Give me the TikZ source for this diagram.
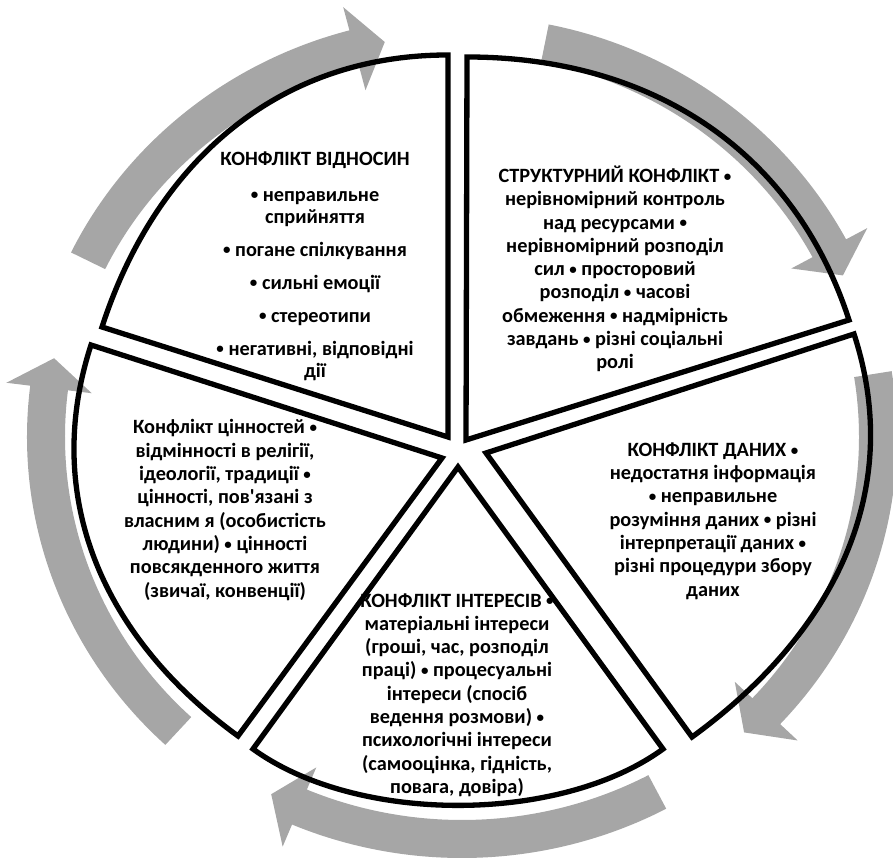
\documentclass[tikz,border=0pt]{standalone}
\usepackage{fontspec}
\setmainfont{Carlito}[Ligatures=TeXOff]
\definecolor{arrowgray}{RGB}{166,166,166}
\newcommand{\dotmark}{{\fontsize{15}{15}\selectfont\raisebox{1.3pt}{•}}}

\begin{document}
\begin{tikzpicture}[x=1pt,y=1pt,
    slice/.style={draw=black,line width=5.3pt,line join=miter},
    txt/.style={align=center,inner sep=0pt,font=\bfseries\fontsize{20.3}{23.3}\selectfont}]
  \useasboundingbox (0,0) rectangle (893,867);
  % slices of the pie, pulled apart a little
  \def\sliceA{(448,430) -- (448,812) to[out=180,in=72] (102,540) -- cycle}
  \def\sliceB{(466,427) -- (849,547) to[out=108,in=0] (467,810) -- cycle}
  \def\sliceC{(486,414) -- (692,130) to[out=36,in=-72] (854,533) -- cycle}
  \def\sliceD{(458,400) -- (253,118) to[out=-36,in=-144,looseness=0.8] (663,118) -- cycle}
  \def\sliceE{(442,409) -- (91,522) to[out=252,in=144] (238,131) -- cycle}
  \fill[white] \sliceA;
  \fill[white] \sliceB;
  \fill[white] \sliceC;
  \fill[white] \sliceD;
  \fill[white] \sliceE;
  % grey arrows going round clockwise (tail angle / head angle)
  \foreach \a/\b in {154/105, 78.5/28, 9/-43, -62/-113, -133/-187}
    \fill[arrowgray,shift={(462,430)}] (\a:435 and 421)
      arc[start angle=\a,end angle=\b,x radius=435,y radius=421]
      -- (\b:459 and 445) -- ({\b-4.3}:416 and 402) -- (\b:373 and 359)
      -- (\b:397 and 383)
      arc[start angle=\b,end angle=\a,x radius=397,y radius=383] -- cycle;
  \draw[slice] \sliceA;
  \draw[slice] \sliceB;
  \draw[slice] \sliceC;
  \draw[slice] \sliceD;
  \draw[slice] \sliceE;
  % texts
  \node[txt,font=\bfseries\fontsize{20.3}{22}\selectfont] (rel) at (315,601)
    {КОНФЛІКТ ВІДНОСИН\\[14pt]
     \dotmark{} неправильне\\сприйняття\\[11pt]
     \dotmark{} погане спілкування\\[11pt]
     \dotmark{} сильні емоції\\[11pt]
     \dotmark{} стереотипи\\[11pt]
     \dotmark{} негативні, відповідні\\дії};
  \node[txt] (str) at (615,598)
    {СТРУКТУРНИЙ КОНФЛІКТ \dotmark\\нерівномірний контроль\\над ресурсами \dotmark\\
     нерівномірний розподіл\\сил \dotmark{} просторовий\\розподіл \dotmark{} часові\\
     обмеження \dotmark{} надмірність\\завдань \dotmark{} різні соціальні\\ролі};
  \node[txt] (dat) at (713,346)
    {КОНФЛІКТ ДАНИХ \dotmark\\недостатня інформація\\\dotmark{} неправильне\\
     розуміння даних \dotmark{} різні\\інтерпретації даних \dotmark\\
     різні процедури збору\\даних};
  \node[txt] (int) at (457,172)
    {КОНФЛІКТ ІНТЕРЕСІВ \dotmark\\матеріальні інтереси\\(гроші, час, розподіл\\
     праці) \dotmark{} процесуальні\\інтереси (спосіб\\ведення розмови) \dotmark\\
     психологічні інтереси\\(самооцінка, гідність,\\повага, довіра)};
  \node[txt] (val) at (225,357)
    {Конфлікт цінностей \dotmark\\відмінності в релігії,\\ідеології, традиції \dotmark\\
     цінності, пов'язані з\\власним я (особистість\\людини) \dotmark{} цінності\\
     повсякденного життя\\(звичаї, конвенції)};
\end{tikzpicture}
\end{document}
